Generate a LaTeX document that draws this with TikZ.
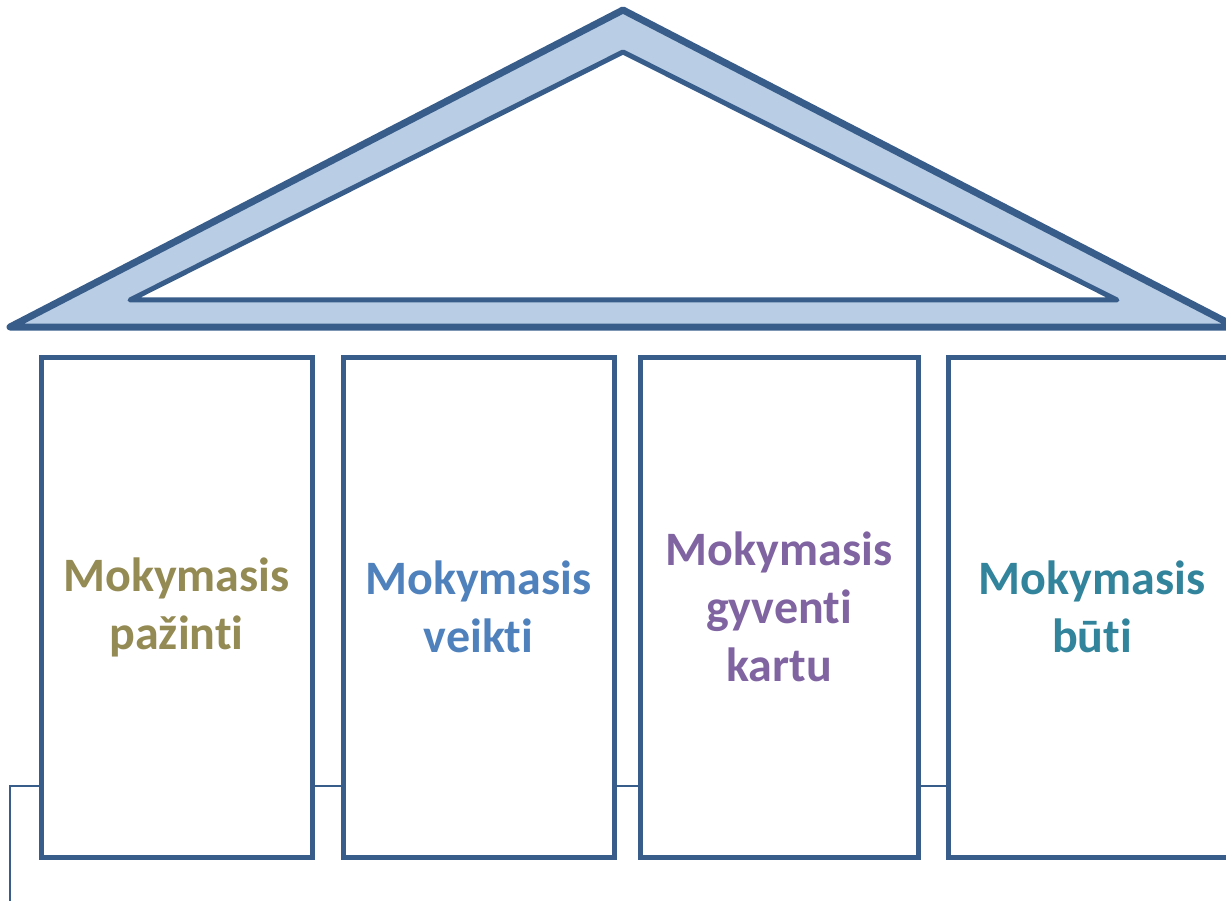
\documentclass[tikz,border=0pt]{standalone}
\usepackage{fontspec}
\setmainfont[Ligatures=NoCommon]{Carlito}
\definecolor{edge}{HTML}{385D8A}
\definecolor{roofFill}{HTML}{B9CDE5}
\definecolor{cOlive}{HTML}{948A54}
\definecolor{cBlue}{HTML}{4F81BD}
\definecolor{cPurple}{HTML}{8064A2}
\definecolor{cTeal}{HTML}{31849B}
\begin{document}
\begin{tikzpicture}[x=1pt,y=-1pt,
  pillar/.style={draw=edge, line width=5pt, fill=white, rectangle, inner sep=0pt,
    minimum height=500pt, align=center, font=\fontsize{48}{58}\selectfont\bfseries},
  tie/.style={draw=edge, line width=2.6pt}]
\useasboundingbox (0,0) rectangle (1226,901);
\clip (0,0) rectangle (1226,901);
% roof
\fill[roofFill, even odd rule] (623,10) -- (1236,327) -- (10,327) -- cycle
  (623,52) -- (1117,300) -- (130,300) -- cycle;
\draw[edge, line width=7pt, line join=round] (623,10) -- (1236,327) -- (10,327) -- cycle;
\draw[edge, line width=5pt, line join=round] (623,52) -- (1117,300) -- (130,300) -- cycle;
% ties
\coordinate (yl) at (0,786);
\coordinate (lb) at (10,905);
% pillars
\node[pillar, minimum width=271pt, text=cOlive] (p1) at (176.5,607) {Mokymasis\\pažinti};
\node[pillar, minimum width=271pt, text=cBlue] (p2) at (478.5,607) {Mokymasis\\veikti};
\node[pillar, minimum width=278pt, text=cPurple] (p3) at (779,607) {Mokymasis\\gyventi\\kartu};
\node[pillar, minimum width=288pt, text=cTeal] (p4) at (1092,607) {Mokymasis\\būti};
\draw[tie] (p1.east |- yl) -- (p2.west |- yl);
\draw[tie] (p2.east |- yl) -- (p3.west |- yl);
\draw[tie] (p3.east |- yl) -- (p4.west |- yl);
\draw[tie] (p1.west |- yl) -| (lb);
\end{tikzpicture}
\end{document}
